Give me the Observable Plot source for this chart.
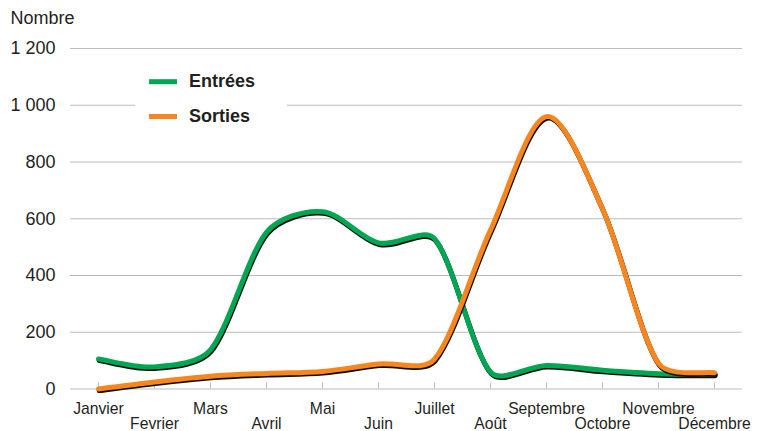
<!DOCTYPE html>
<html>
<head>
<meta charset="utf-8">
<script src="https://cdn.jsdelivr.net/npm/d3@7"></script>
<script src="https://cdn.jsdelivr.net/npm/@observablehq/plot@0.6"></script>
<style>
  html, body { margin: 0; padding: 0; background: #fff; }
  #chart { width: 759px; height: 431px; }
</style>
</head>
<body>
<div id="chart"></div>
<script>
// Mouvements mensuels : entrées et sorties
const months = ["Janvier", "Fevrier", "Mars", "Avril", "Mai", "Juin",
                "Juillet", "Août", "Septembre", "Octobre", "Novembre", "Décembre"];
const entrees = [106, 78, 138, 552, 625, 515, 530, 60, 83, 66, 54, 52];
const sorties = [0, 25, 45, 55, 62, 88, 105, 560, 960, 635, 90, 57];
const yTicks = [0, 200, 400, 600, 800, 1000, 1200];
const seriesNames = ["Entrées", "Sorties"];
const seriesColors = ["#00a651", "#f7861f"];

const idx = months.map((_, i) => i);
const rowsE = idx.map(i => ({i, v: entrees[i]}));
const rowsS = idx.map(i => ({i, v: sorties[i]}));

const fr = d3.formatLocale({decimal: ",", thousands: "\u00a0", grouping: [3], currency: ["", ""]}).format(",");

// Courbe lissée : segments de Bézier à tangente (P2 - P0) / 6, dont le bras
// est raccourci du côté du segment le plus court pour limiter les dépassements.
class SmoothCurve {
  constructor(context) { this._context = context; }
  areaStart() { this._line = 0; }
  areaEnd() { this._line = NaN; }
  lineStart() { this._pts = []; }
  point(x, y) { this._pts.push([+x, +y]); }
  lineEnd() {
    const p = this._pts, c = this._context, n = p.length;
    if (!n) return;
    if (this._line) c.lineTo(p[0][0], p[0][1]); else c.moveTo(p[0][0], p[0][1]);
    const dist = (a, b) => Math.hypot(b[0] - a[0], b[1] - a[1]);
    // bras au point B, orienté de A vers C, vu depuis le segment de longueur dNear
    const arm = (A, C, dNear, dFar) => {
      const k = dNear + dFar > 0 ? Math.min(1, 2 * dNear / (dNear + dFar)) : 1;
      return [(C[0] - A[0]) / 6 * k, (C[1] - A[1]) / 6 * k];
    };
    for (let i = 0; i < n - 1; i++) {
      const P0 = p[Math.max(i - 1, 0)], P1 = p[i], P2 = p[i + 1], P3 = p[Math.min(i + 2, n - 1)];
      const d01 = dist(P0, P1), d12 = dist(P1, P2), d23 = dist(P2, P3);
      const a1 = arm(P0, P2, d12, i > 0 ? d01 : d12);
      const a2 = arm(P1, P3, d12, i + 2 < n ? d23 : d12);
      c.bezierCurveTo(P1[0] + a1[0], P1[1] + a1[1], P2[0] - a2[0], P2[1] - a2[1], P2[0], P2[1]);
    }
    if (this._line || (this._line !== 0 && n === 1)) c.closePath();
    this._line = 1 - this._line;
  }
}
const smooth = context => new SmoothCurve(context);

const W = 759, H = 431;
const mT = 48, mB = 42.5, mL = 70, mR = 17;
const frameH = H - mT - mB;
const ink = "#231f20";
const grid = "#bcbcbc";
const font = "'Liberation Sans', Arial, Helvetica, sans-serif";

// Chaque série : un trait noir décalé (ombre) puis le trait coloré
function series(rows, color) {
  return [
    Plot.line(rows, {x: "i", y: "v", stroke: "#111", strokeWidth: 5, curve: smooth, dx: 0.7, dy: 1.6}),
    Plot.line(rows, {x: "i", y: "v", stroke: color, strokeWidth: 5, curve: smooth})
  ];
}

const svg = Plot.plot({
  width: W, height: H,
  marginTop: mT, marginBottom: mB, marginLeft: mL, marginRight: mR,
  x: {domain: [-0.5, 11.5], axis: null},
  y: {domain: [0, 1200], axis: null},
  style: {fontFamily: font, background: "#fff", color: ink},
  marks: [
    Plot.ruleY(yTicks, {stroke: grid, strokeWidth: 1}),
    Plot.tickX(idx, {x: d => d, stroke: grid, strokeWidth: 1, insetTop: frameH - 6}),
    Plot.axisY(yTicks, {tickSize: 0, tickPadding: 15, fontSize: 18, tickFormat: fr, label: null, fill: ink}),
    Plot.text(idx.filter(i => i % 2 === 0), {x: d => d, text: i => months[i], frameAnchor: "bottom",
      dy: 19.7, lineAnchor: "middle", fontSize: 15.7, fill: ink}),
    Plot.text(idx.filter(i => i % 2 === 1), {x: d => d, text: i => months[i], frameAnchor: "bottom",
      dy: 35, lineAnchor: "middle", fontSize: 15.7, fill: ink}),
    Plot.text(["Nombre"], {frameAnchor: "top-left", dx: -60, dy: -30, textAnchor: "start",
      lineAnchor: "middle", fontSize: 18, fill: ink}),
    ...series(rowsE, seriesColors[0]),
    ...series(rowsS, seriesColors[1])
  ]
});

// Légende avec fond blanc posée sur la grille
const lg = d3.select(svg).append("g").attr("font-family", font).attr("text-anchor", "start");
lg.append("rect").attr("x", 135).attr("y", 64).attr("width", 152).attr("height", 68).attr("fill", "#fff");
const legendY = [81.7, 116.5];
seriesNames.forEach((name, k) => {
  lg.append("line").attr("x1", 149).attr("x2", 177).attr("y1", legendY[k]).attr("y2", legendY[k])
    .attr("stroke", seriesColors[k]).attr("stroke-width", 5);
  lg.append("text").attr("x", 189).attr("y", legendY[k] + 5.6).attr("font-size", 18)
    .attr("font-weight", "bold").attr("fill", ink).attr("text-anchor", "start").text(name);
});

document.getElementById("chart").appendChild(svg);
</script>
</body>
</html>
